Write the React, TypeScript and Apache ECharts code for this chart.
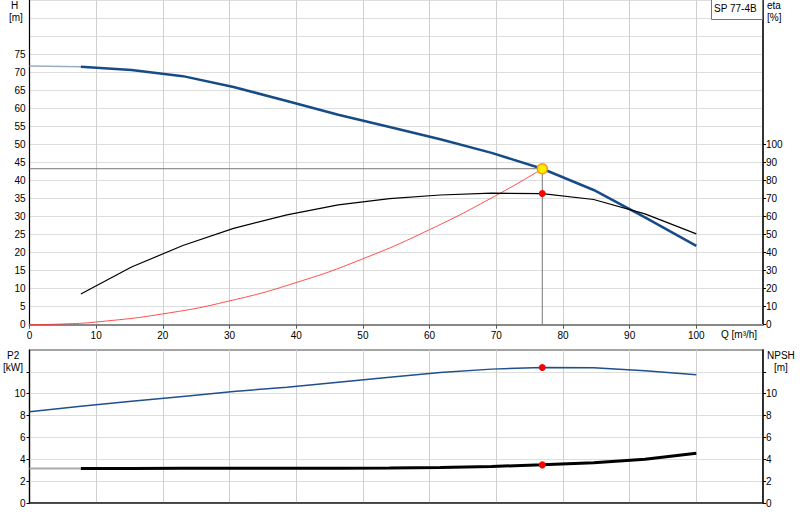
import React, { useEffect, useRef } from "react";
import * as echarts from "echarts";

// Flow axis (m³/h)
const qTickLabels = [0, 10, 20, 30, 40, 50, 60, 70, 80, 90, 100];
const hTickLabels = [0, 5, 10, 15, 20, 25, 30, 35, 40, 45, 50, 55, 60, 65, 70, 75];
const etaTickLabels = [0, 10, 20, 30, 40, 50, 60, 70, 80, 90, 100];
const p2TickLabels = [0, 2, 4, 6, 8, 10];
const p2Ticks = [0, 2, 4, 6, 8, 10, 12];

// Q-H curve
const qHead = [7.7, 15.3, 23.0, 30.6, 38.6, 46.3, 54.0, 61.6, 69.3, 76.9, 84.6, 92.3, 100];
const headVals = [71.6, 70.7, 69.0, 66.0, 62.1, 58.3, 54.9, 51.5, 47.7, 43.3, 37.4, 29.8, 21.9];
const qHeadExtra = [0, 7.7];
const headExtra = [71.8, 71.6];

// Efficiency
const qEta = [7.7, 15.3, 23.0, 30.6, 38.6, 46.3, 54.0, 61.6, 69.3, 76.9, 84.6, 92.3, 100];
const etaVals = [17, 32, 44, 53.5, 61, 66.5, 70, 72, 73, 72.8, 69.5, 61.5, 50.4];

// System curve
const qSys = [0, 5, 10, 20, 30, 40, 50, 60, 70, 76.9];
const sysVals = [0, 0.2, 0.75, 3.0, 6.6, 11.7, 18.3, 26.4, 35.9, 43.3];

// Power P2
const qP2 = [0, 7.7, 15.3, 23.0, 30.6, 38.6, 46.3, 54.0, 61.6, 69.3, 76.9, 84.6, 92.3, 100];
const p2Vals = [8.35, 8.85, 9.3, 9.75, 10.2, 10.6, 11.05, 11.5, 11.95, 12.25, 12.4, 12.38, 12.1, 11.74];

// NPSH
const qNpsh = [7.7, 15.3, 23.0, 30.6, 38.6, 46.3, 54.0, 61.6, 69.3, 76.9, 84.6, 92.3, 100];
const npshVals = [3.15, 3.15, 3.17, 3.17, 3.17, 3.18, 3.2, 3.25, 3.35, 3.49, 3.68, 4.0, 4.56];
const qNpshExtra = [0, 7.7];
const npshExtra = [3.15, 3.15];

// Duty point
const dutyQ = 76.9;
const dutyH = 43.3;
const dutyEta = 72.8;
const dutyP2 = 12.4;
const dutyNpsh = 3.49;

const zip = (a: number[], b: number[]) => a.map((v, i) => [v, b[i]]);

const FONT = 'Arial, "Liberation Sans", sans-serif';

export default function App() {
  const ref = useRef<HTMLDivElement>(null);
  useEffect(() => {
    document.body.style.margin = "0";
    const chart = echarts.init(ref.current!, null, { renderer: "svg" });
    const lbl = { fontSize: 10, color: "#000", fontFamily: FONT };
    const redDot = { color: "#ff0000", opacity: 1, borderWidth: 0 };
    const option: any = {
      animation: false,
      textStyle: { fontFamily: FONT },
      grid: [
        { left: 29.5, right: 37, top: 0.5, height: 324.2, show: true, borderColor: "#999", borderWidth: 1, backgroundColor: "transparent" },
        { left: 29.5, right: 37, top: 350, height: 153, show: true, borderColor: "#888", borderWidth: 1.5, backgroundColor: "transparent" },
      ],
      xAxis: [
        {
          type: "value", gridIndex: 0, min: 0, max: 110, interval: 10,
          axisLine: { show: true, onZero: false, lineStyle: { color: "#888", width: 2 } },
          axisTick: { show: true, length: 4, customValues: qTickLabels, lineStyle: { color: "#555" } },
          axisLabel: { ...lbl, margin: 6, customValues: qTickLabels },
          splitLine: { show: true, lineStyle: { color: "#cfcfcf", width: 1 } },
        },
        {
          type: "value", gridIndex: 1, min: 0, max: 110, interval: 10,
          axisLine: { show: true, onZero: false, lineStyle: { color: "#222", width: 1.5 } },
          axisTick: { show: false },
          axisLabel: { show: false },
          splitLine: { show: true, lineStyle: { color: "#cfcfcf", width: 1 } },
        },
      ],
      yAxis: [
        {
          type: "value", gridIndex: 0, position: "left", min: 0, max: 90, interval: 5,
          axisLine: { show: true, onZero: false, lineStyle: { color: "#000", width: 1.2 } },
          axisTick: { show: false },
          axisLabel: { ...lbl, margin: 4, customValues: hTickLabels },
          splitLine: { show: true, lineStyle: { color: "#dedede", width: 1 } },
        },
        {
          type: "value", gridIndex: 0, position: "right", min: 0, max: 180, interval: 10,
          axisLine: { show: true, onZero: false, lineStyle: { color: "#000", width: 1.5 } },
          axisTick: { show: true, length: 3, customValues: etaTickLabels, lineStyle: { color: "#000" } },
          axisLabel: { ...lbl, margin: 3, customValues: etaTickLabels },
          splitLine: { show: false },
        },
        {
          type: "value", gridIndex: 1, position: "left", min: 0, max: 14, interval: 2,
          axisLine: { show: true, onZero: false, lineStyle: { color: "#000", width: 1.2 } },
          axisTick: { show: true, length: 3, customValues: p2Ticks, lineStyle: { color: "#000" } },
          axisLabel: { ...lbl, margin: 4, customValues: p2TickLabels },
          splitLine: { show: true, lineStyle: { color: "#dedede", width: 1 } },
        },
        {
          type: "value", gridIndex: 1, position: "right", min: 0, max: 14, interval: 2,
          axisLine: { show: true, onZero: false, lineStyle: { color: "#000", width: 1.5 } },
          axisTick: { show: true, length: 3, customValues: p2Ticks, lineStyle: { color: "#000" } },
          axisLabel: { ...lbl, margin: 3, customValues: p2TickLabels },
          splitLine: { show: false },
        },
      ],
      series: [
        {
          type: "line", xAxisIndex: 0, yAxisIndex: 0, data: [[0, dutyH], [dutyQ, dutyH], [dutyQ, 0]],
          symbol: "none", lineStyle: { color: "#777", width: 1 }, silent: true,
        },
        {
          type: "line", xAxisIndex: 0, yAxisIndex: 0, data: zip(qSys, sysVals), smooth: true,
          symbol: "none", lineStyle: { color: "#ff3030", width: 1, opacity: 0.85 },
        },
        {
          type: "line", xAxisIndex: 0, yAxisIndex: 0, data: zip(qHeadExtra, headExtra),
          symbol: "none", lineStyle: { color: "#9aabc4", width: 1.5 },
        },
        {
          type: "line", xAxisIndex: 0, yAxisIndex: 0, data: zip(qHead, headVals),
          symbol: "none", lineStyle: { color: "#174b88", width: 2.5 },
        },
        {
          type: "line", xAxisIndex: 0, yAxisIndex: 1, data: zip(qEta, etaVals),
          symbol: "none", lineStyle: { color: "#000", width: 1.2 },
        },
        {
          type: "scatter", xAxisIndex: 0, yAxisIndex: 1, data: [[dutyQ, dutyEta]],
          symbolSize: 7, itemStyle: redDot, z: 5,
        },
        {
          type: "scatter", xAxisIndex: 0, yAxisIndex: 0, data: [[dutyQ, dutyH]],
          symbolSize: 10, itemStyle: { color: "#ffee00", opacity: 1, borderColor: "#ff9900", borderWidth: 1.5 }, z: 5,
        },
        {
          type: "line", xAxisIndex: 1, yAxisIndex: 2, data: zip(qP2, p2Vals),
          symbol: "none", lineStyle: { color: "#1f4f8c", width: 1.5 },
        },
        {
          type: "line", xAxisIndex: 1, yAxisIndex: 3, data: zip(qNpshExtra, npshExtra),
          symbol: "none", lineStyle: { color: "#aaaaaa", width: 2 },
        },
        {
          type: "line", xAxisIndex: 1, yAxisIndex: 3, data: zip(qNpsh, npshVals),
          symbol: "none", lineStyle: { color: "#000", width: 3 },
        },
        {
          type: "scatter", xAxisIndex: 1, yAxisIndex: 2, data: [[dutyQ, dutyP2]],
          symbolSize: 7, itemStyle: redDot, z: 5,
        },
        {
          type: "scatter", xAxisIndex: 1, yAxisIndex: 3, data: [[dutyQ, dutyNpsh]],
          symbolSize: 7, itemStyle: redDot, z: 5,
        },
      ],
      graphic: [
        { type: "text", left: 11, top: 0, style: { text: "H", font: `10px ${FONT}`, fill: "#000" } },
        { type: "text", left: 9, top: 12, style: { text: "[m]", font: `10px ${FONT}`, fill: "#000" } },
        { type: "text", left: 767, top: 0, style: { text: "eta", font: `10px ${FONT}`, fill: "#000" } },
        { type: "text", left: 767, top: 12, style: { text: "[%]", font: `10px ${FONT}`, fill: "#000" } },
        { type: "text", left: 721, top: 329, style: { text: "Q [m³/h]", font: `10px ${FONT}`, fill: "#000" } },
        { type: "text", left: 7, top: 350, style: { text: "P2", font: `10px ${FONT}`, fill: "#000" } },
        { type: "text", left: 3, top: 362, style: { text: "[kW]", font: `10px ${FONT}`, fill: "#000" } },
        { type: "text", left: 767, top: 350, style: { text: "NPSH", font: `10px ${FONT}`, fill: "#000" } },
        { type: "text", left: 774, top: 362, style: { text: "[m]", font: `10px ${FONT}`, fill: "#000" } },
        {
          type: "rect", shape: { x: 711.5, y: -1, width: 51, height: 20.5 },
          style: { fill: "#fff", stroke: "#777", lineWidth: 1 }, z: 10,
        },
        { type: "text", left: 714, top: 3, z: 11, style: { text: "SP 77-4B", font: `10px ${FONT}`, fill: "#000" } },
      ],
    };
    chart.setOption(option);
    return () => chart.dispose();
  }, []);
  return (
    <div
      ref={ref}
      style={{ position: "absolute", left: 0, top: 0, width: 800, height: 520, background: "#fff" }}
    />
  );
}
